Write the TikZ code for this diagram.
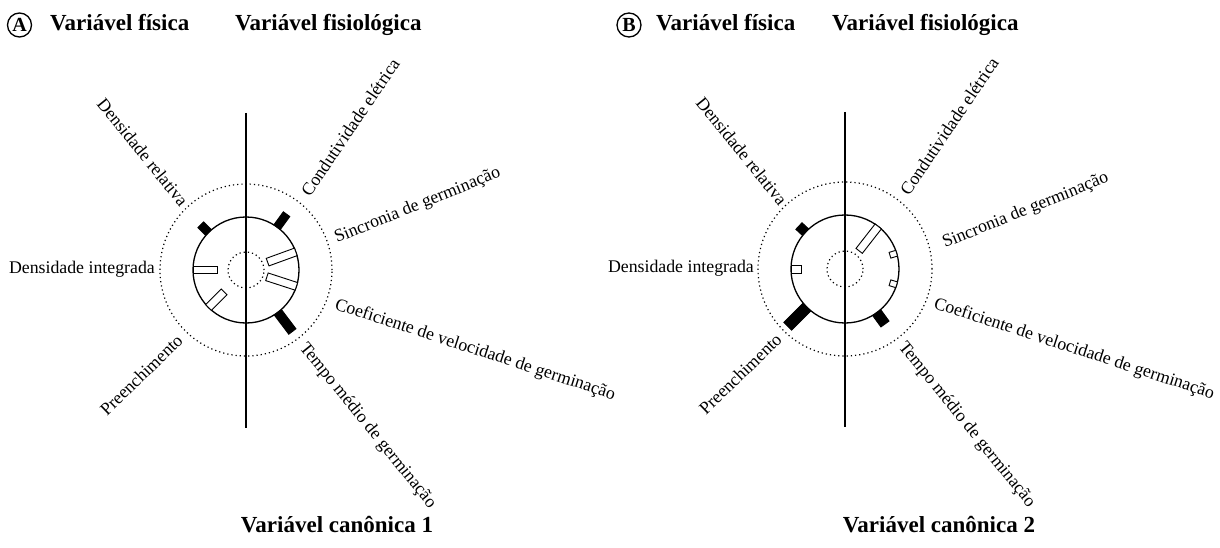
\documentclass[tikz,border=0pt]{standalone}
\usepackage{fontspec}
\setmainfont{Liberation Serif}
\usetikzlibrary{positioning}

\begin{document}
\begin{tikzpicture}
  [x=1pt, y=1pt,
   lbl/.style={font=\fontsize{17.8}{20}\selectfont, inner sep=0pt},
   hdr/.style={font=\bfseries\fontsize{23}{26}\selectfont, inner sep=0pt},
   tag/.style={draw, circle, line width=1.3pt, inner sep=0pt, minimum size=24pt, font=\bfseries\fontsize{20}{22}\selectfont},
   ring/.style={line width=1.2pt, dash pattern=on 1.2pt off 3pt},
   bar/.style={line width=0.9pt}]
  \useasboundingbox (0,0) rectangle (1220,547);

  % panel A
  \node[tag] (tag-a) at (19.5,522) {A};
  \node[hdr, anchor=base west] (a-fis) at (50,516) {Variável física};
  \node[hdr, anchor=base west] (a-fisio) at (235,516) {Variável fisiológica};
  \begin{scope}[shift={(246,277)}]
    \draw[line width=1.2pt] (0,157) -- (0,-158);
    \draw[line width=1.3pt] (0,0) circle (53);
    \draw[ring] (0,0) circle (86);
    \draw[ring] (0,0) circle (18);
    \foreach \a/\ra/\rb/\w/\c in {135/53/64/8/black, 54/53/69/8/black,
        180/29/53/7.5/white, 225/31/53/8/white, 20/23/53/8/white,
        -18/22/53/8/white, -53/53/77/9/black}
      \draw[bar, fill=\c, rotate=\a] (\ra,-\w/2) rectangle (\rb,\w/2);
    \node[lbl, anchor=base east, rotate=-51] (a-dr) at (-66,62) {Densidade relativa};
    \node[lbl, anchor=base east] (a-di) at (-91,-3) {Densidade integrada};
    \node[lbl, anchor=base east, rotate=44] (a-pr) at (-62,-72) {Preenchimento};
    \node[lbl, anchor=base west, rotate=56] (a-ce) at (64,72) {Condutividade elétrica};
    \node[lbl, anchor=base west, rotate=22] (a-sg) at (91,27) {Sincronia de germinação};
    \node[lbl, anchor=base west, rotate=-18] (a-cv) at (88,-39) {Coeficiente de velocidade de germinação};
    \node[lbl, anchor=base west, rotate=-51] (a-tm) at (53,-78) {Tempo médio de germinação};
  \end{scope}
  \node[hdr, anchor=base] (a-can) at (337,15) {Variável canônica 1};

  % panel B
  \node[tag] (tag-b) at (629,522) {B};
  \node[hdr, anchor=base west] (b-fis) at (656,516) {Variável física};
  \node[hdr, anchor=base west] (b-fisio) at (832,516) {Variável fisiológica};
  \begin{scope}[shift={(845,278)}]
    \draw[line width=1.2pt] (0,157) -- (0,-158);
    \draw[line width=1.3pt] (0,0) circle (54);
    \draw[ring] (0,0) circle (87);
    \draw[ring] (0,0) circle (18);
    \foreach \a/\ra/\rb/\w/\c in {137/54/63/9/black, 52/23/54/8/white,
        180/44/54/8/white, 17/47/54/6/white, -17/47/54/6/white,
        225/54/81/11/black, -54/54/68/10/black}
      \draw[bar, fill=\c, rotate=\a] (\ra,-\w/2) rectangle (\rb,\w/2);
    \node[lbl, anchor=base east, rotate=-51] (b-dr) at (-66,62) {Densidade relativa};
    \node[lbl, anchor=base east] (b-di) at (-91,-3) {Densidade integrada};
    \node[lbl, anchor=base east, rotate=44] (b-pr) at (-62,-72) {Preenchimento};
    \node[lbl, anchor=base west, rotate=56] (b-ce) at (64,72) {Condutividade elétrica};
    \node[lbl, anchor=base west, rotate=22] (b-sg) at (100,21) {Sincronia de germinação};
    \node[lbl, anchor=base west, rotate=-18] (b-cv) at (88,-39) {Coeficiente de velocidade de germinação};
    \node[lbl, anchor=base west, rotate=-51] (b-tm) at (53,-78) {Tempo médio de germinação};
  \end{scope}
  \node[hdr, anchor=base] (b-can) at (939,15) {Variável canônica 2};
\end{tikzpicture}
\end{document}
